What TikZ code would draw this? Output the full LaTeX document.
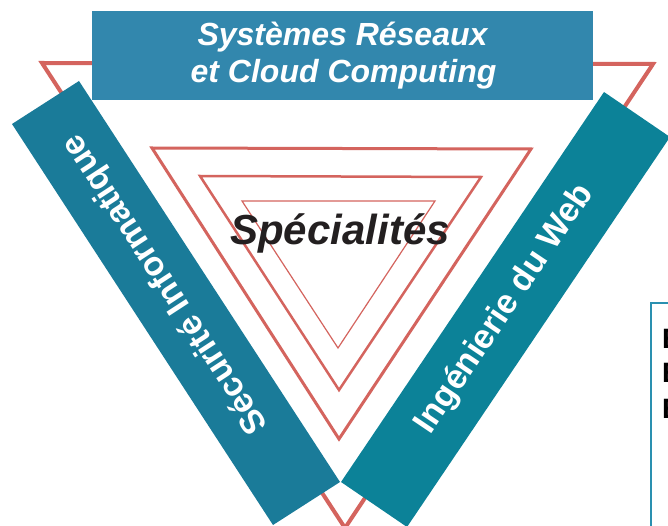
\documentclass[tikz,border=0pt]{standalone}
\usepackage{fontspec}
\setmainfont{Liberation Sans}
\definecolor{topblue}{HTML}{3287AD}
\definecolor{leftblue}{HTML}{1A7B99}
\definecolor{rightblue}{HTML}{0C8298}
\definecolor{redline}{HTML}{D4645E}
\definecolor{boxline}{HTML}{2A90B0}
\definecolor{darktext}{HTML}{231F20}
\begin{document}
\begin{tikzpicture}[x=1pt,y=-1pt,
  tri/.style={draw=redline, line join=miter},
  titletext/.style={text=white, inner sep=0, anchor=base, font=\bfseries\itshape\fontsize{32}{37}\selectfont},
  bandtext/.style={text=white, inner sep=0, font=\bfseries\fontsize{34}{40}\selectfont},
  boxletter/.style={text=black, inner sep=0, anchor=base west, font=\bfseries\fontsize{28}{32}\selectfont}]
\useasboundingbox (0,0) rectangle (668,526);
\fill[white] (0,0) rectangle (668,526);
% nested triangles
\draw[tri, line width=4pt] (42,63) -- (653,64) -- (345,528) -- cycle;
\draw[tri, line width=3pt] (152,148) -- (531,149) -- (339,439) -- cycle;
\draw[tri, line width=2.5pt] (200,176) -- (481,177) -- (339,390) -- cycle;
\draw[tri, line width=1.2pt] (242,201) -- (435,201) -- (338,348) -- cycle;
% banners
\fill[topblue] (92,11) rectangle (593,100);
\fill[leftblue] (12,124) -- (79,81) -- (340,482) -- (273,525) -- cycle;
\fill[rightblue] (604,92) -- (670,137) -- (407,527) -- (341,482) -- cycle;
% texts
\node[titletext] (t1) at (342.5,46) {Systèmes Réseaux};
\node[titletext] (t2) at (343.5,83) {et Cloud Computing};
\node[bandtext, rotate=123.1] (sec) at (166,284) {Sécurité Informatique};
\node[bandtext, rotate=56] (web) at (505,309) {Ingénierie du Web};
\node[anchor=base, inner sep=0, text=darktext, font=\bfseries\itshape\fontsize{42}{50}\selectfont] (spec) at (340,245) {Spécialités};
% partial box at right
\draw[boxline, line width=2pt] (651,560) -- (651,303) -- (700,303);
\node[boxletter] (l1) at (662,348) {E};
\node[boxletter] (l2) at (662,382) {E};
\node[boxletter] (l3) at (662,418) {E};
\end{tikzpicture}
\end{document}
